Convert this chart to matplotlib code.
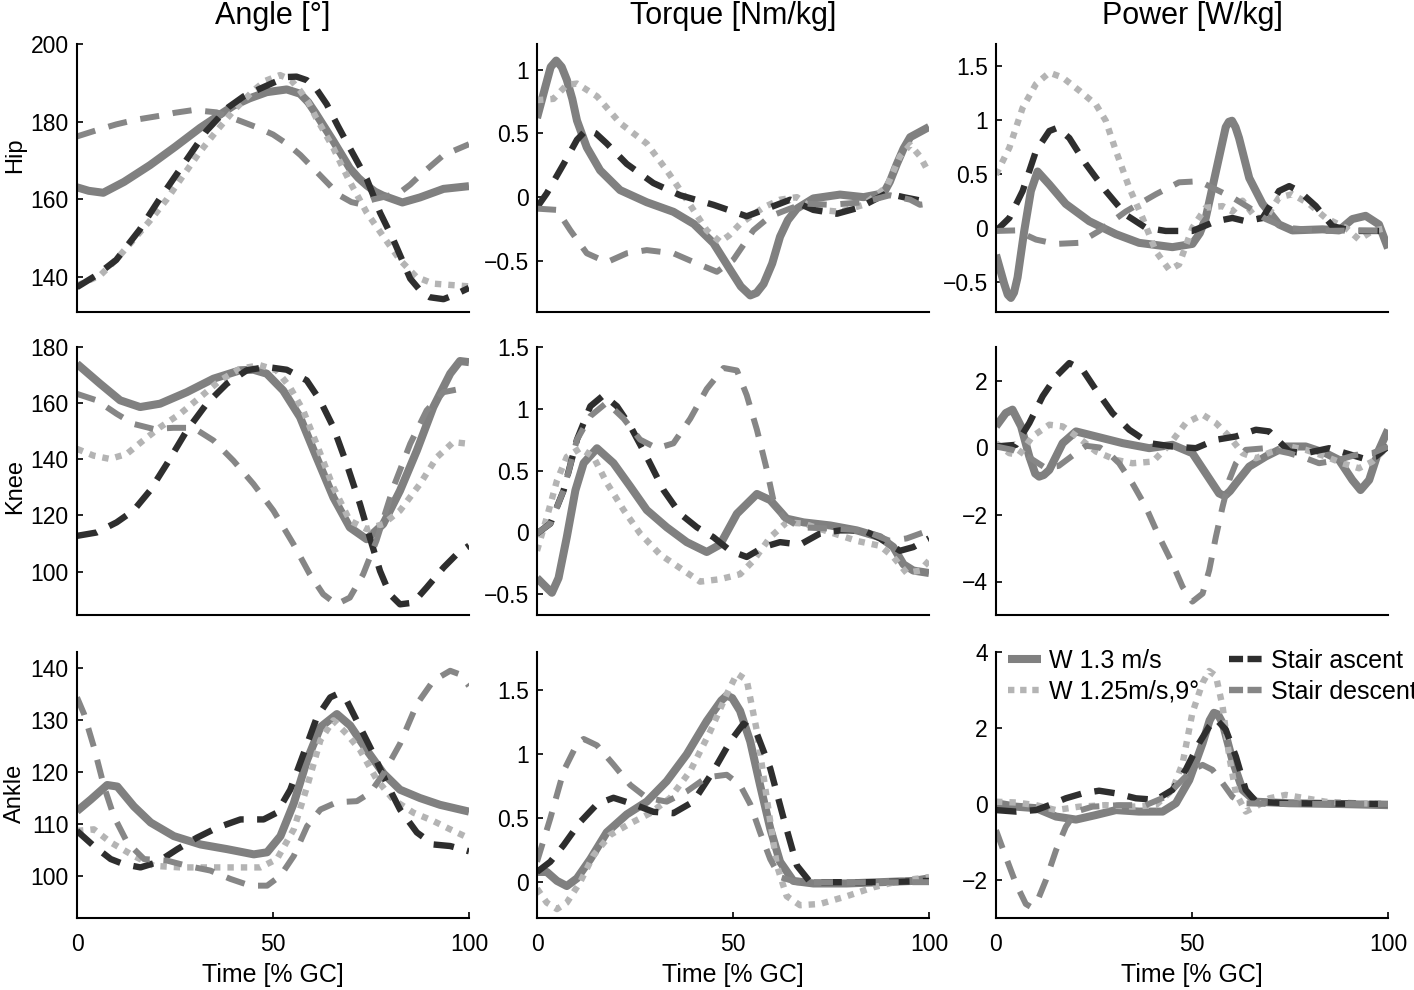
import matplotlib
matplotlib.use('Agg')
from matplotlib import pyplot as plt
from matplotlib.lines import Line2D
from matplotlib.ticker import FuncFormatter

plt.rcParams['font.family'] = ['Liberation Sans', 'DejaVu Sans']

# data: (time [% GC], value)
hip_angle_walk = [(0, 163.1), (3, 162.2), (6.7, 161.7), (12, 164.5), (18.6, 168.8), (25, 173.5), (31.4, 178.4),
                  (36, 181.5), (39.9, 184.1), (44, 186), (48.4, 187.6), (53.5, 188.3), (56.9, 187.2), (59, 185),
                  (61, 182), (63, 178.8), (65.4, 175), (67.5, 171.5), (69.6, 168), (71.8, 165.5), (73.9, 163.6),
                  (76, 162), (78, 161), (83, 159.2), (87.5, 160.5), (93.5, 162.7), (100, 163.4)]
hip_angle_incline = [(0, 137.8), (5.9, 140.4), (10, 144.5), (14.4, 149.6), (18.6, 154.5), (22.9, 160), (27, 166),
                     (31.4, 172.3), (35.5, 177.5), (39.9, 182.8), (45, 188), (48, 190.5), (51.8, 192), (54.5, 190.8),
                     (56.9, 188), (59, 185), (61, 181), (63, 177.5), (65.4, 173.2), (67.5, 168.8), (69.6, 164.5),
                     (71.8, 160.5), (73.9, 156.6), (78.1, 150.5), (82.4, 144.4), (86.6, 140), (90.9, 138.3),
                     (100, 137.6)]
hip_angle_ascent = [(0, 137.4), (5, 140.5), (10, 144.4), (16, 152.2), (21, 160), (27, 168.8), (33, 177.6),
                    (38.6, 183.7), (42.5, 186.5), (46.7, 188.5), (50, 190), (53.5, 191.5), (56, 191.6),
                    (58.6, 190.7), (61, 188.5), (63.7, 184.5), (66.5, 179), (69.6, 173.2), (73.9, 165.3),
                    (77.3, 156.6), (80.7, 149.6), (85, 139.6), (88, 136), (90, 134.8), (93.5, 134.3),
                    (96.5, 135.5), (100, 137.2)]
hip_angle_descent = [(0, 176.2), (5, 177.8), (10, 179.3), (15, 180.5), (21, 181.5), (25, 182.3), (29.7, 183),
                     (35.6, 182.4), (41.6, 180.2), (46, 178.5), (50, 176.7), (54, 174), (57, 171.4), (62, 166.2),
                     (67, 161), (70, 159.3), (72.2, 158.8), (75.6, 160), (79, 160.8), (82.4, 161.8), (85, 163.8),
                     (87.5, 166.2), (93.5, 171.4), (100, 174.2)]

hip_torque_walk = [(0, 0.62), (2, 0.85), (3.5, 1.02), (4.9, 1.07), (6.3, 1.02), (7.6, 0.92), (9, 0.77),
                   (10.2, 0.60), (12.7, 0.39), (16.1, 0.21), (21.2, 0.055), (28, -0.04), (34.8, -0.115),
                   (40, -0.21), (45, -0.36), (49.3, -0.57), (52, -0.70), (54.4, -0.77), (56, -0.75),
                   (57.8, -0.68), (60, -0.52), (62, -0.31), (64, -0.18), (66.3, -0.09), (70.5, -0.01),
                   (77.3, 0.02), (83.3, 0.0), (88.4, 0.03), (90, 0.12), (91.8, 0.26), (93.5, 0.38),
                   (95.2, 0.47), (100, 0.55)]
hip_torque_incline = [(0, 0.76), (4.2, 0.77), (7.6, 0.88), (10.2, 0.89), (15.3, 0.79), (21.2, 0.58), (28, 0.42),
                      (33.1, 0.21), (38.2, -0.02), (43.3, -0.26), (46.7, -0.35), (49, -0.3), (51.8, -0.21),
                      (57.8, -0.08), (62, -0.02), (66.3, 0.0), (69, -0.06), (72.2, -0.1), (77.3, -0.115),
                      (83.3, -0.06), (89.2, 0.08), (92.6, 0.32), (95.2, 0.41), (97.7, 0.32), (100, 0.19)]
hip_torque_ascent = [(0, -0.08), (2.5, 0.03), (6.8, 0.26), (10.2, 0.45), (12.7, 0.53), (15, 0.50), (17.8, 0.42),
                     (22.9, 0.26), (29.7, 0.11), (36.5, 0.015), (45, -0.06), (53.5, -0.15), (59.5, -0.08),
                     (64.6, -0.02), (70.5, -0.1), (76.5, -0.13), (82.4, -0.08), (89.2, 0.03), (93.5, 0.0),
                     (100, -0.04)]
hip_torque_descent = [(0, -0.09), (5.1, -0.1), (8.5, -0.26), (12.7, -0.44), (17.8, -0.51), (22.9, -0.44),
                      (28, -0.415), (34.8, -0.44), (40.8, -0.52), (45.9, -0.585), (50.1, -0.49), (55.2, -0.26),
                      (59.5, -0.15), (63.7, -0.1), (68, -0.05), (74.8, -0.06), (83.3, -0.04), (90, 0.015),
                      (95.2, -0.02), (97.7, -0.06), (100, -0.05)]

hip_power_walk = [(0, -0.25), (2.1, -0.52), (3, -0.62), (3.8, -0.65), (4.6, -0.6), (5.5, -0.46), (7.2, -0.03),
                  (8.9, 0.34), (10.6, 0.52), (13.6, 0.40), (17.8, 0.22), (23.8, 0.06), (30.6, -0.06),
                  (36.5, -0.14), (45, -0.18), (50.1, -0.15), (52, -0.05), (53.5, 0.09), (56.1, 0.52),
                  (58.6, 0.93), (59.4, 0.98), (60.2, 0.99), (61.1, 0.93), (62, 0.83), (64.6, 0.46), (68, 0.22),
                  (72.2, 0.03), (75.6, -0.025), (83.3, -0.015), (87.5, -0.025), (90.9, 0.08), (94.3, 0.11),
                  (97.7, 0.03), (100, -0.19)]
hip_power_incline = [(0, 0.49), (3.4, 0.74), (6.8, 1.11), (10.2, 1.33), (13.6, 1.435), (17, 1.39), (21.2, 1.27),
                     (25.5, 1.14), (28, 0.99), (30.6, 0.71), (34, 0.37), (37.4, 0.09), (40.8, -0.22),
                     (44.2, -0.39), (46.7, -0.34), (50.1, 0.0), (53.5, 0.185), (57.8, 0.2), (60.3, 0.15),
                     (62.9, 0.25), (66.3, 0.09), (68.8, 0.09), (72.2, 0.28), (75.6, 0.31), (79.9, 0.22),
                     (84.1, 0.09), (89.2, 0.0), (92.6, -0.11), (96, -0.03), (100, 0.0)]
hip_power_ascent = [(0, -0.03), (3.4, 0.09), (6.8, 0.34), (10.2, 0.71), (13.6, 0.895), (15.7, 0.925),
                    (18.7, 0.83), (22.9, 0.59), (28, 0.34), (33.1, 0.12), (38.2, 0.0), (43.3, -0.03),
                    (50.1, -0.03), (56.1, 0.06), (60.3, 0.09), (63.7, 0.06), (68, 0.09), (72.2, 0.34),
                    (74.8, 0.385), (77.3, 0.34), (81.6, 0.2), (85.8, 0.015), (90.9, -0.03), (100, -0.03)]
hip_power_descent = [(0, -0.03), (5.1, -0.025), (10.2, -0.11), (15.3, -0.15), (21.2, -0.14), (26.3, -0.03),
                     (33.1, 0.15), (40.8, 0.31), (46.7, 0.42), (51.8, 0.43), (55.2, 0.37), (60.3, 0.28),
                     (64.6, 0.185), (68.8, 0.08), (73.9, 0.0), (83.3, -0.03), (91.8, -0.025), (100, -0.03)]

knee_angle_walk = [(0, 174), (5.9, 166.9), (11, 161), (16.1, 158.6), (21.2, 159.8), (28, 163.9), (34.8, 168.7),
                   (41.6, 171.7), (45, 171.9), (48.4, 170.5), (52.6, 164.5), (56.9, 155), (61.1, 140.7),
                   (65.4, 126.4), (69.6, 115.7), (73.9, 111.5), (78.1, 116.9), (82.4, 128.8), (86.7, 143.1),
                   (90.9, 158.6), (95.2, 170.5), (97.7, 175), (100, 174.6)]
knee_angle_incline = [(0, 143.7), (4.2, 141.3), (8.4, 140.1), (12.7, 141.9), (16.9, 146.7), (21.2, 151.4),
                      (26.3, 156.2), (31.4, 162.1), (36.5, 168.1), (41.6, 172.3), (46.7, 173.5), (50.9, 171.7),
                      (54.3, 165.7), (57.7, 157.4), (61.1, 145.5), (65.4, 130), (69.6, 118.1), (73.9, 115.1),
                      (78.1, 116.9), (82.4, 121.7), (87.5, 131.2), (91.8, 140.7), (96, 146.1), (100, 145.5)]
knee_angle_ascent = [(0, 112.7), (5, 113.9), (10.1, 117.5), (14.4, 121.7), (18.6, 128.8), (22.9, 138.3),
                     (28, 150.2), (33.1, 159.8), (38.2, 166.9), (43.3, 171.7), (48.4, 172.9), (53.5, 171.9),
                     (58.6, 168.1), (62, 161), (65.4, 151.4), (68.8, 138.3), (72.2, 124), (74.7, 112.1),
                     (77.3, 100.2), (79.8, 91.9), (82.4, 88.3), (85.8, 88.9), (89.2, 94.3), (93.5, 101.4),
                     (96.9, 106.2), (100, 109.2)]
knee_angle_descent = [(0, 163.3), (5, 161), (10.1, 156.2), (14.4, 152.6), (19.5, 150.8), (24.6, 151.2),
                      (29.7, 151.2), (34.8, 146.7), (39.9, 139.5), (45, 131.2), (50.1, 121.7), (55.2, 109.8),
                      (59.4, 99), (62.8, 91.9), (66.2, 88.3), (69.6, 90.7), (73, 99), (76.4, 111), (80.7, 130),
                      (85, 145.5), (89.2, 157.4), (93.5, 163.9), (100, 165.7)]

knee_torque_walk = [(0, -0.37), (2.5, -0.45), (3.8, -0.49), (5.5, -0.37), (7.6, -0.04), (9.8, 0.34),
                    (11.9, 0.56), (15.3, 0.68), (19.5, 0.56), (23.8, 0.37), (28, 0.18), (33.1, 0.04),
                    (38.2, -0.08), (43.3, -0.16), (46.7, -0.1), (51, 0.15), (56.1, 0.31), (59.5, 0.26),
                    (63.7, 0.11), (68, 0.08), (74.8, 0.055), (81.6, 0.015), (87.5, -0.04), (90.9, -0.12),
                    (93.5, -0.26), (96, -0.31), (100, -0.33)]
knee_torque_incline = [(0, -0.15), (2.5, 0.12), (5.1, 0.42), (7.6, 0.61), (11, 0.68), (14.4, 0.61), (17.8, 0.40),
                       (22.1, 0.18), (26.3, -0.01), (31.4, -0.18), (36.5, -0.29), (41.6, -0.40), (46.7, -0.38),
                       (51.8, -0.34), (55.2, -0.23), (59.5, -0.04), (63.7, 0.08), (68, 0.07), (74.8, 0.0),
                       (81.6, -0.07), (87.5, -0.11), (90.9, -0.2), (94.3, -0.33), (97.7, -0.31), (100, -0.23)]
knee_torque_ascent = [(0, -0.01), (3.4, 0.07), (6.8, 0.34), (10.2, 0.75), (13.6, 1.02), (17, 1.11), (20.4, 1.02),
                      (23.8, 0.86), (28, 0.61), (32.3, 0.34), (36.5, 0.15), (40.8, 0.04), (45, -0.04),
                      (49.3, -0.15), (53.5, -0.2), (57.8, -0.12), (62, -0.08), (67.1, -0.1), (72.2, -0.01),
                      (77.3, 0.015), (83.3, 0.015), (87.5, -0.05), (92.6, -0.15), (96, -0.12), (100, -0.05)]
knee_torque_descent = [(0, -0.01), (3.4, 0.07), (6.8, 0.34), (10.2, 0.75), (13.6, 0.94), (17.8, 1.05),
                       (22.1, 0.92), (26.3, 0.75), (30.6, 0.68), (34.8, 0.72), (39.1, 0.92), (43.3, 1.16),
                       (47.6, 1.33), (51, 1.31), (53.5, 1.11), (56.1, 0.83), (58.6, 0.51), (60.3, 0.26),
                       (62.9, 0.12), (67.1, 0.04), (74.8, 0.03), (83.3, 0.015), (90, -0.07), (94.3, -0.05),
                       (100, 0.015)]

knee_power_walk = [(0, 0.63), (2.5, 1.03), (4.2, 1.13), (6.4, 0.63), (8.5, -0.27), (10, -0.78), (11, -0.87),
                   (12.2, -0.82), (13.6, -0.67), (17, 0.13), (20.4, 0.48), (25.5, 0.33), (32.3, 0.13),
                   (39.1, -0.02), (45, 0.08), (50.1, -0.17), (53.5, -0.77), (56.9, -1.37), (57.8, -1.42),
                   (58.6, -1.42), (59.7, -1.3), (61.2, -1.07), (64.6, -0.57), (68.8, -0.27), (73.9, 0.03),
                   (79, 0.03), (84.1, -0.17), (87.5, -0.37), (90.9, -0.97), (93, -1.27), (95.2, -0.97),
                   (97.7, -0.07), (100, 0.53)]
knee_power_incline = [(0, 0.13), (3.4, -0.17), (5.9, -0.22), (9.3, 0.33), (13.6, 0.68), (17, 0.63), (21.2, 0.28),
                      (25.5, -0.12), (30.6, -0.37), (34.8, -0.47), (40, -0.42), (44.2, 0.08), (48.4, 0.73),
                      (52.7, 0.98), (56.1, 0.73), (59.5, 0.33), (62.9, -0.17), (66.3, -0.32), (70.5, -0.12),
                      (74.8, 0.03), (79, -0.07), (84.1, -0.27), (88.4, -0.47), (92.6, -0.62), (96, -0.42),
                      (100, 0.03)]
knee_power_ascent = [(0, 0.03), (5.1, 0.08), (8.5, 0.73), (11.9, 1.53), (15.3, 2.12), (18.7, 2.52), (22.1, 2.32),
                     (25.5, 1.72), (29.7, 1.03), (34, 0.53), (39.1, 0.13), (45, 0.03), (51, -0.02), (56.1, 0.23),
                     (61.2, 0.33), (66.3, 0.53), (69.7, 0.48), (74.8, -0.12), (79, -0.17), (85, -0.02),
                     (89.2, -0.17), (93.5, -0.32), (96.9, -0.27), (100, 0.03)]
knee_power_descent = [(0, 0.03), (4.2, -0.07), (8.5, -0.3), (12.5, -0.6), (16, -0.55), (20, -0.2), (23, 0.05),
                      (26.5, 0.0), (29, -0.2), (31.4, -0.47), (34.8, -1.07), (38.2, -1.77), (41.6, -2.66),
                      (45, -3.46), (47.6, -4.16), (50.1, -4.6), (52.7, -4.36), (54.4, -3.66), (56.1, -2.66),
                      (57.8, -1.77), (59.5, -0.97), (61.2, -0.47), (63.7, -0.07), (68.8, -0.02), (74.8, -0.17),
                      (79, -0.32), (82.4, -0.47), (87.5, -0.37), (91.8, -0.22), (96, -0.17), (100, 0.03)]

ankle_angle_walk = [(0, 112.5), (3.5, 114.7), (7.7, 117.5), (10.3, 117.2), (14.5, 113.4), (18.8, 110.3),
                    (24.7, 107.7), (31.5, 106.1), (38.3, 105.2), (45.1, 104.2), (48.5, 104.6), (51.9, 107.7),
                    (55.3, 114), (58.7, 122.3), (62.1, 128.6), (66.3, 131.1), (69.7, 128.9), (73.9, 124.2),
                    (78.2, 119.7), (82.4, 116.6), (87.5, 115), (92.6, 113.7), (100, 112.4)]
ankle_angle_incline = [(0, 108.7), (4.3, 109), (8.6, 106.5), (14.5, 103.9), (19.6, 102), (26.4, 101.7),
                       (33.2, 101.7), (40, 101.7), (46.8, 101.7), (51, 103.3), (55.3, 109), (58.7, 117.2),
                       (62.1, 126.1), (65.4, 129.9), (68.8, 127.3), (72.2, 124.2), (76.5, 118.5), (80.7, 114.7),
                       (85.8, 112.2), (90.9, 110.6), (95.2, 109), (100, 107.3)]
ankle_angle_ascent = [(0, 108.7), (4.3, 105.8), (8.6, 103.3), (12, 102.3), (16.2, 101.7), (20.5, 102.7),
                      (25.6, 105.2), (30.6, 107.4), (35.7, 109.3), (41.7, 110.9), (47.6, 110.9), (51, 112.2),
                      (54.4, 116.6), (57.8, 123.5), (61.2, 130.5), (64.6, 134.3), (66.3, 134.9), (68.8, 133.7),
                      (72.2, 128.6), (75.6, 123.5), (79, 117.8), (82.4, 112.8), (86.7, 108.4), (90.9, 106.1),
                      (95.2, 105.8), (100, 104.8)]
ankle_angle_descent = [(0, 134.3), (1.8, 131.1), (4.3, 124.8), (6.9, 117.2), (9.4, 111.5), (12.8, 106.5),
                       (17.1, 103.3), (23, 103), (28.1, 102), (34, 101.1), (39.1, 99.5), (44.2, 98.2),
                       (48.5, 98.2), (51.9, 100.1), (55.3, 103.9), (58.7, 109.6), (62.1, 112.8), (66.3, 114.2),
                       (71.4, 114.4), (74.8, 116), (78.2, 119.7), (82.4, 125.4), (86.7, 133), (90.9, 137.5),
                       (95.2, 139.4), (97.7, 138.7), (100, 136.5)]

ankle_torque_walk = [(0, 0.08), (2.5, 0.08), (5.1, 0.01), (7.6, -0.03), (10.2, 0.03), (13.6, 0.18), (17.8, 0.39),
                     (22.9, 0.53), (28, 0.63), (33.1, 0.79), (38.2, 1.0), (43.3, 1.26), (47, 1.42), (48.4, 1.46),
                     (49.8, 1.44), (51.8, 1.34), (54.4, 1.1), (56.9, 0.76), (59.5, 0.42), (62, 0.16),
                     (65.4, 0.01), (70.5, -0.01), (79, -0.01), (87.5, 0.0), (96, 0.01), (100, 0.03)]
ankle_torque_incline = [(0, -0.05), (2.5, -0.16), (5.1, -0.21), (7.6, -0.16), (11, 0.0), (14.4, 0.21),
                        (18.7, 0.37), (23.8, 0.46), (28.9, 0.54), (34, 0.66), (39.1, 0.87), (44.2, 1.18),
                        (48.4, 1.47), (51, 1.63), (53.5, 1.58), (56.1, 1.18), (58.6, 0.66), (61.2, 0.13),
                        (63.7, -0.11), (67.1, -0.18), (72.2, -0.17), (79, -0.11), (85.8, -0.04), (92.6, 0.01),
                        (100, 0.04)]
ankle_torque_ascent = [(0, 0.08), (3.4, 0.16), (6.8, 0.29), (11, 0.47), (15.3, 0.61), (19.5, 0.66), (24.6, 0.61),
                       (29.7, 0.55), (34.8, 0.54), (39.9, 0.63), (45, 0.87), (49.3, 1.1), (52.7, 1.24),
                       (56.1, 1.16), (59.5, 0.89), (62.9, 0.5), (66.3, 0.13), (69.7, 0.0), (79, 0.0),
                       (87.5, 0.0), (100, 0.01)]
ankle_torque_descent = [(0, 0.16), (3.4, 0.5), (6.8, 0.87), (10.2, 1.08), (11.9, 1.12), (15.3, 1.07),
                        (19.5, 0.92), (23.8, 0.76), (28, 0.66), (33.1, 0.63), (38.2, 0.71), (43.3, 0.82),
                        (48.4, 0.84), (51.8, 0.76), (54.4, 0.61), (56.9, 0.39), (59.5, 0.18), (62, 0.04),
                        (66.3, 0.0), (100, 0.0)]

ankle_power_walk = [(0, 0.02), (5.1, -0.07), (10.2, -0.11), (15.3, -0.33), (20.4, -0.41), (25.5, -0.29),
                    (30.6, -0.16), (36.5, -0.2), (42.5, -0.2), (45.9, 0.02), (49.3, 0.63), (52.7, 1.6),
                    (54.5, 2.2), (55.6, 2.4), (56.6, 2.36), (57.8, 2.13), (60.3, 1.16), (62.9, 0.37),
                    (66.3, 0.06), (74.8, 0.02), (87.5, 0.0), (100, -0.03)]
ankle_power_incline = [(0, 0.06), (5.1, 0.04), (10.2, -0.03), (15.3, -0.16), (21.2, -0.07), (28, -0.03),
                       (34.8, -0.07), (40.8, -0.03), (45, 0.37), (47.6, 1.07), (50.1, 2.4), (52.7, 3.19),
                       (54.4, 3.5), (56.1, 3.37), (57.8, 2.57), (59.5, 1.25), (61.2, 0.28), (63.7, -0.2),
                       (66.3, -0.07), (69.7, 0.15), (73.9, 0.24), (79, 0.15), (84.1, 0.06), (91.8, 0.02),
                       (100, 0.0)]
ankle_power_ascent = [(0, -0.16), (5.1, -0.2), (10.2, -0.16), (13.6, -0.03), (17.8, 0.15), (22.1, 0.28),
                      (26.3, 0.35), (30.6, 0.28), (35.7, 0.15), (40.8, 0.11), (45, 0.37), (48.4, 0.9),
                      (51.8, 1.6), (54.4, 2.04), (56.1, 2.24), (58.6, 1.96), (61.2, 1.25), (63.7, 0.37),
                      (66.3, 0.06), (74.8, 0.02), (100, 0.0)]
ankle_power_descent = [(0, -0.69), (2.5, -1.39), (5.1, -2.1), (7.6, -2.63), (8.9, -2.71), (10.6, -2.54),
                       (12.7, -2.01), (15.3, -1.22), (17.8, -0.6), (20.4, -0.2), (24.6, -0.07), (31.4, -0.03),
                       (38.2, -0.03), (43.3, 0.19), (46.7, 0.55), (50.1, 0.9), (52.7, 1.03), (55.2, 0.9),
                       (57.8, 0.55), (60.3, 0.19), (62.9, 0.02), (70.5, 0.0), (100, 0.0)]

col_titles = ['Angle [°]', 'Torque [Nm/kg]', 'Power [W/kg]']
row_names = ['Hip', 'Knee', 'Ankle']
legend_labels = ['W 1.3 m/s', 'W 1.25m/s,9°', 'Stair ascent', 'Stair descent']

panels = [
    [(hip_angle_walk, hip_angle_incline, hip_angle_ascent, hip_angle_descent),
     (hip_torque_walk, hip_torque_incline, hip_torque_ascent, hip_torque_descent),
     (hip_power_walk, hip_power_incline, hip_power_ascent, hip_power_descent)],
    [(knee_angle_walk, knee_angle_incline, knee_angle_ascent, knee_angle_descent),
     (knee_torque_walk, knee_torque_incline, knee_torque_ascent, knee_torque_descent),
     (knee_power_walk, knee_power_incline, knee_power_ascent, knee_power_descent)],
    [(ankle_angle_walk, ankle_angle_incline, ankle_angle_ascent, ankle_angle_descent),
     (ankle_torque_walk, ankle_torque_incline, ankle_torque_ascent, ankle_torque_descent),
     (ankle_power_walk, ankle_power_incline, ankle_power_ascent, ankle_power_descent)],
]
ylims = [[(131, 200), (-0.9, 1.2), (-0.78, 1.7)],
         [(84.5, 180), (-0.67, 1.5), (-5, 3)],
         [(92, 143), (-0.28, 1.8), (-3, 4)]]
yticks = [[[140, 160, 180, 200], [-0.5, 0, 0.5, 1], [-0.5, 0, 0.5, 1, 1.5]],
          [[100, 120, 140, 160, 180], [-0.5, 0, 0.5, 1, 1.5], [-4, -2, 0, 2]],
          [[100, 110, 120, 130, 140], [0, 0.5, 1, 1.5], [-2, 0, 2, 4]]]

styles = [
    dict(color='#808080', lw=5.8, solid_capstyle='butt', solid_joinstyle='round'),
    dict(color='#b4b4b4', lw=4.6, dashes=(1.0, 1.1), dash_capstyle='butt'),
    dict(color='#2e2e2e', lw=4.6, dashes=(3.2, 2.1), dash_capstyle='butt'),
    dict(color='#868686', lw=4.3, dashes=(3.2, 2.3), dash_capstyle='butt'),
]

W, H = 1414, 990
col_left = [77, 537, 996]
row_top = [44, 347, 652]
row_bottom = [312, 615, 918]
ax_w = 392

fmt = FuncFormatter(lambda v, p: ('%g' % v).replace('-', '\u2212'))

fig = plt.figure(figsize=(W / 100, H / 100), dpi=100)
axes = []
for r in range(3):
    row = []
    for c in range(3):
        ax = fig.add_axes([col_left[c] / W, 1 - row_bottom[r] / H, ax_w / W, (row_bottom[r] - row_top[r]) / H])
        for series, st in zip(panels[r][c], styles):
            t, v = zip(*series)
            ax.plot(t, v, **st)
        ax.set_xlim(0, 100)
        ax.set_ylim(*ylims[r][c])
        ax.set_yticks(yticks[r][c])
        ax.yaxis.set_major_formatter(fmt)
        for s in ['top', 'right']:
            ax.spines[s].set_visible(False)
        for s in ['left', 'bottom']:
            ax.spines[s].set_linewidth(1.5)
        ax.tick_params(direction='in', length=4, width=1.2, labelsize=16.5)
        ax.tick_params(axis='y', pad=6)
        if r == 2:
            ax.set_xticks([0, 50, 100])
            ax.tick_params(axis='x', pad=11)
            ax.set_xlabel('Time [% GC]', fontsize=18, labelpad=5)
        else:
            ax.set_xticks([])
        row.append(ax)
    axes.append(row)

for c, title in enumerate(col_titles):
    fig.text((col_left[c] + ax_w / 2) / W, 1 - 16 / H, title, ha='center', va='center', fontsize=22)

row_label_y = [155, 487, 793]
for r, name in enumerate(row_names):
    fig.text(15 / W, 1 - row_label_y[r] / H, name, rotation=90, ha='center', va='center', fontsize=17)

handles = [
    Line2D([], [], color='#808080', lw=5.8, solid_capstyle='butt'),
    Line2D([], [], color='#b4b4b4', lw=4.6, dashes=(1.0, 0.9), dash_capstyle='butt'),
    Line2D([], [], color='#2e2e2e', lw=4.6, dashes=(2.2, 0.7), dash_capstyle='butt'),
    Line2D([], [], color='#868686', lw=4.6, dashes=(2.2, 0.7), dash_capstyle='butt'),
]
axes[2][2].legend(handles, legend_labels, ncol=2, loc='upper left', bbox_to_anchor=(12 / ax_w, 1.012),
                  frameon=False, fontsize=18, handlelength=1.3, handletextpad=0.35, columnspacing=1.2,
                  labelspacing=0.28, borderpad=0, borderaxespad=0)

fig.savefig('out.png', dpi=100)
